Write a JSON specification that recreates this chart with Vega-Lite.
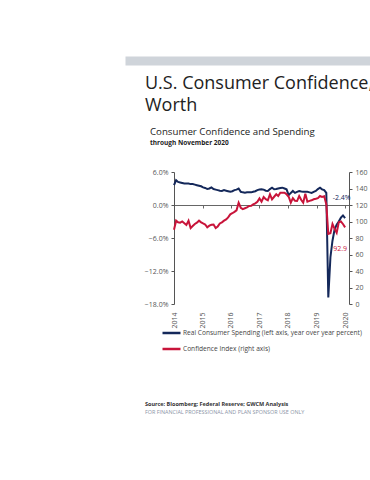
{
  "$schema": "https://vega.github.io/schema/vega-lite/v6.json",
  "autosize": {"type": "none"},
  "padding": {"left": 174, "top": 56, "right": 196, "bottom": 424},
  "background": "white",
  "config": {
    "font": "Open Sans",
    "view": {"stroke": null},
    "axis": {"labelFont": "Open Sans", "labelFontSize": 7, "labelColor": "#555", "domainColor": "#555", "tickColor": "#555", "grid": false, "title": null}
  },
  "title": {
    "text": "Source: Bloomberg; Federal Reserve; GWCM Analysis",
    "subtitle": "FOR FINANCIAL PROFESSIONAL AND PLAN SPONSOR USE ONLY",
    "orient": "bottom", "anchor": "start", "frame": "group",
    "fontSize": 5.5, "fontWeight": "bold", "color": "#333",
    "subtitleFontSize": 5.4, "subtitleColor": "#8a94a6", "subtitlePadding": 2,
    "offset": 48, "dx": -29
  },
  "datasets": {
    "main": [
      {"date": "2014-01-01", "spending": 3.6, "confidence": 90},
      {"date": "2014-02-01", "spending": 4.5, "confidence": 101},
      {"date": "2014-03-01", "spending": 4.2, "confidence": 99},
      {"date": "2014-04-01", "spending": 4.1, "confidence": 98.6},
      {"date": "2014-05-01", "spending": 4.0, "confidence": 100},
      {"date": "2014-06-01", "spending": 3.9, "confidence": 98},
      {"date": "2014-07-01", "spending": 3.9, "confidence": 95.8},
      {"date": "2014-08-01", "spending": 3.9, "confidence": 101},
      {"date": "2014-09-01", "spending": 3.8, "confidence": 92},
      {"date": "2014-10-01", "spending": 3.8, "confidence": 94.5},
      {"date": "2014-11-01", "spending": 3.7, "confidence": 97},
      {"date": "2014-12-01", "spending": 3.6, "confidence": 98.6},
      {"date": "2015-01-01", "spending": 3.5, "confidence": 101},
      {"date": "2015-02-01", "spending": 3.4, "confidence": 99},
      {"date": "2015-03-01", "spending": 3.2, "confidence": 97.6},
      {"date": "2015-04-01", "spending": 3.1, "confidence": 96.4},
      {"date": "2015-05-01", "spending": 2.9, "confidence": 93},
      {"date": "2015-06-01", "spending": 3.0, "confidence": 95},
      {"date": "2015-07-01", "spending": 3.2, "confidence": 96},
      {"date": "2015-08-01", "spending": 2.9, "confidence": 96.4},
      {"date": "2015-09-01", "spending": 2.8, "confidence": 92},
      {"date": "2015-10-01", "spending": 2.7, "confidence": 94},
      {"date": "2015-11-01", "spending": 2.6, "confidence": 97.6},
      {"date": "2015-12-01", "spending": 2.55, "confidence": 99},
      {"date": "2016-01-01", "spending": 2.7, "confidence": 101},
      {"date": "2016-02-01", "spending": 2.6, "confidence": 102.6},
      {"date": "2016-03-01", "spending": 2.5, "confidence": 105},
      {"date": "2016-04-01", "spending": 2.4, "confidence": 108.7},
      {"date": "2016-05-01", "spending": 2.5, "confidence": 110},
      {"date": "2016-06-01", "spending": 2.7, "confidence": 111.7},
      {"date": "2016-07-01", "spending": 2.8, "confidence": 113.5},
      {"date": "2016-08-01", "spending": 3.0, "confidence": 122.8},
      {"date": "2016-09-01", "spending": 2.4, "confidence": 116.7},
      {"date": "2016-10-01", "spending": 2.3, "confidence": 115},
      {"date": "2016-11-01", "spending": 2.25, "confidence": 116},
      {"date": "2016-12-01", "spending": 2.3, "confidence": 117},
      {"date": "2017-01-01", "spending": 2.3, "confidence": 118.8},
      {"date": "2017-02-01", "spending": 2.3, "confidence": 119},
      {"date": "2017-03-01", "spending": 2.4, "confidence": 120.8},
      {"date": "2017-04-01", "spending": 2.5, "confidence": 122},
      {"date": "2017-05-01", "spending": 2.7, "confidence": 124},
      {"date": "2017-06-01", "spending": 2.8, "confidence": 128},
      {"date": "2017-07-01", "spending": 2.85, "confidence": 124},
      {"date": "2017-08-01", "spending": 2.8, "confidence": 129.7},
      {"date": "2017-09-01", "spending": 2.6, "confidence": 127},
      {"date": "2017-10-01", "spending": 2.55, "confidence": 125.7},
      {"date": "2017-11-01", "spending": 2.9, "confidence": 133},
      {"date": "2017-12-01", "spending": 3.15, "confidence": 126.9},
      {"date": "2018-01-01", "spending": 2.85, "confidence": 130},
      {"date": "2018-02-01", "spending": 2.9, "confidence": 133},
      {"date": "2018-03-01", "spending": 3.0, "confidence": 131},
      {"date": "2018-04-01", "spending": 3.1, "confidence": 135},
      {"date": "2018-05-01", "spending": 3.15, "confidence": 135},
      {"date": "2018-06-01", "spending": 3.0, "confidence": 135},
      {"date": "2018-07-01", "spending": 2.85, "confidence": 133},
      {"date": "2018-08-01", "spending": 1.8, "confidence": 130},
      {"date": "2018-09-01", "spending": 2.2, "confidence": 122.8},
      {"date": "2018-10-01", "spending": 2.55, "confidence": 128.3},
      {"date": "2018-11-01", "spending": 2.2, "confidence": 125},
      {"date": "2018-12-01", "spending": 2.4, "confidence": 124.8},
      {"date": "2019-01-01", "spending": 2.55, "confidence": 130.9},
      {"date": "2019-02-01", "spending": 2.45, "confidence": 126},
      {"date": "2019-03-01", "spending": 2.4, "confidence": 122.8},
      {"date": "2019-04-01", "spending": 2.4, "confidence": 133.7},
      {"date": "2019-05-01", "spending": 2.4, "confidence": 124},
      {"date": "2019-06-01", "spending": 2.3, "confidence": 125},
      {"date": "2019-07-01", "spending": 2.2, "confidence": 125.7},
      {"date": "2019-08-01", "spending": 2.4, "confidence": 126.9},
      {"date": "2019-09-01", "spending": 2.55, "confidence": 127.5},
      {"date": "2019-10-01", "spending": 2.9, "confidence": 128.3},
      {"date": "2019-11-01", "spending": 3.15, "confidence": 130.9},
      {"date": "2019-12-01", "spending": 2.85, "confidence": 129.7},
      {"date": "2020-01-01", "spending": 2.7, "confidence": 130.5},
      {"date": "2020-02-01", "spending": 2.2, "confidence": 120.8},
      {"date": "2020-03-01", "spending": -16.8, "confidence": 85},
      {"date": "2020-04-01", "spending": -9.5, "confidence": 85.9},
      {"date": "2020-05-01", "spending": -6.5, "confidence": 97},
      {"date": "2020-06-01", "spending": -4.4, "confidence": 91},
      {"date": "2020-07-01", "spending": -3.6, "confidence": 86.3},
      {"date": "2020-08-01", "spending": -3.0, "confidence": 99},
      {"date": "2020-09-01", "spending": -2.3, "confidence": 100},
      {"date": "2020-10-01", "spending": -1.9, "confidence": 97},
      {"date": "2020-11-01", "spending": -2.4, "confidence": 92.9}
    ]
  },
  "spacing": 11,
  "vconcat": [
    {
      "width": 245,
      "height": 9,
      "data": {"values": [{"v": 0}]},
      "mark": {"type": "text", "text": ""},
      "encoding": {
        "x": {
          "field": "v", "type": "quantitative",
          "scale": {"domain": [0, 1]},
          "axis": {"orient": "top", "position": -49, "offset": -4.5, "domain": true, "domainColor": "#cfd4da", "domainWidth": 9, "domainCap": "butt", "ticks": false, "labels": false}
        }
      },
      "title": {
        "text": ["U.S. Consumer Confidence,", "Worth"],
        "orient": "bottom", "anchor": "start", "frame": "group",
        "dx": -29, "offset": 9,
        "fontSize": 18, "lineHeight": 22, "fontWeight": "normal", "color": "#222", "font": "Open Sans"
      }
    },
    {
      "width": 175,
      "height": 132,
      "data": {"name": "main"},
      "title": {
        "text": "Consumer Confidence and Spending",
        "subtitle": "through November 2020",
        "anchor": "start", "frame": "group", "dx": -24, "offset": 22,
        "fontSize": 9.7, "fontWeight": "normal", "color": "#222",
        "subtitleFontSize": 6.5, "subtitleFontWeight": "bold", "subtitleColor": "#222", "subtitlePadding": 3
      },
      "layer": [
        {
          "mark": {"type": "line", "strokeWidth": 2},
          "encoding": {
            "x": {
              "field": "date", "type": "temporal",
              "scale": {"domain": [{"year": 2014, "month": 1, "date": 1}, {"year": 2020, "month": 12, "date": 28}]},
              "axis": {
                "orient": "bottom",
                "values": [{"year": 2014, "month": 1, "date": 2}, {"year": 2015, "month": 2, "date": 21}, {"year": 2016, "month": 4, "date": 11}, {"year": 2017, "month": 6, "date": 1}, {"year": 2018, "month": 7, "date": 21}, {"year": 2019, "month": 9, "date": 11}, {"year": 2020, "month": 11, "date": 1}],
                "format": "%Y", "labelAngle": 270, "domain": false, "ticks": false, "labelPadding": 8
              }
            },
            "y": {
              "field": "spending", "type": "quantitative",
              "scale": {"domain": [-18, 6], "nice": false, "zero": false},
              "axis": {"orient": "left", "values": [-18, -12, -6, 0, 6], "labelExpr": "format(datum.value, '.1f') + '%'", "tickSize": 3, "labelPadding": 3}
            },
            "color": {
              "datum": "Real Consumer Spending (left axis, year over year percent)",
              "scale": {"domain": ["Real Consumer Spending (left axis, year over year percent)", "Confidence Index (right axis)"], "range": ["#14285a", "#c8143a"]},
              "legend": {"orient": "none", "legendX": -13, "legendY": 271, "title": null, "symbolType": "M-1,0H3", "symbolSize": 81, "symbolStrokeWidth": 2.5, "labelFontSize": 6.6, "labelColor": "#444", "labelLimit": 400, "labelOffset": 10, "rowPadding": 5, "padding": 0}
            }
          }
        },
        {
          "mark": {"type": "line", "strokeWidth": 2},
          "encoding": {
            "x": {
              "field": "date", "type": "temporal",
              "axis": {
                "orient": "top", "offset": -33,
                "values": [{"year": 2014, "month": 1, "date": 2}, {"year": 2015, "month": 2, "date": 21}, {"year": 2016, "month": 4, "date": 11}, {"year": 2017, "month": 6, "date": 1}, {"year": 2018, "month": 7, "date": 21}, {"year": 2019, "month": 9, "date": 11}, {"year": 2020, "month": 11, "date": 1}],
                "labels": false, "tickSize": -3, "domainColor": "#666", "tickColor": "#666"
              }
            },
            "y": {
              "field": "confidence", "type": "quantitative",
              "scale": {"domain": [0, 160], "nice": false},
              "axis": {"orient": "right", "values": [0, 20, 40, 60, 80, 100, 120, 140, 160], "tickSize": 3, "labelPadding": 3}
            },
            "color": {"datum": "Confidence Index (right axis)"}
          }
        },
        {
          "transform": [{"filter": "datum.spending == -2.4"}],
          "mark": {"type": "text", "fontSize": 7, "color": "#14285a", "align": "center", "baseline": "middle", "dx": -3.5, "dy": -20.5},
          "encoding": {
            "x": {"field": "date", "type": "temporal", "axis": null},
            "y": {"field": "spending", "type": "quantitative", "scale": {"domain": [-18, 6], "nice": false, "zero": false}, "axis": null},
            "text": {"value": "-2.4%"}
          }
        },
        {
          "transform": [{"filter": "datum.confidence == 92.9"}],
          "mark": {"type": "text", "fontSize": 7, "color": "#c8143a", "align": "center", "baseline": "middle", "dx": -5, "dy": 21.6},
          "encoding": {
            "x": {"field": "date", "type": "temporal", "axis": null},
            "y": {"field": "confidence", "type": "quantitative", "scale": {"domain": [0, 160], "nice": false}, "axis": null},
            "text": {"value": "92.9"}
          }
        }
      ],
      "resolve": {"scale": {"y": "independent"}, "axis": {"x": "independent", "y": "independent"}}
    }
  ]
}
